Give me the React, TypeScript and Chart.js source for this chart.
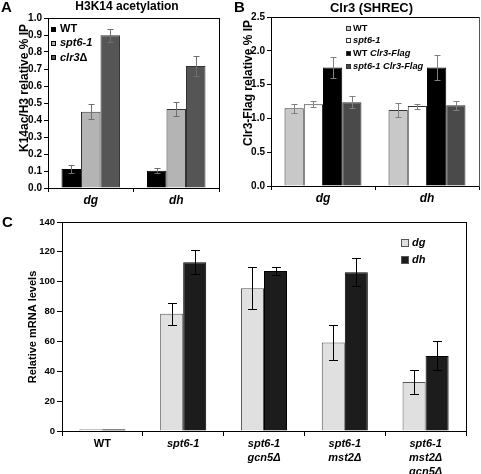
import React, { useEffect, useRef } from "react";
import { Chart, registerables } from "chart.js";

Chart.register(...registerables);

const FONT = "'Liberation Sans', Arial, Helvetica, sans-serif";

// ---------- Panel A: H3K14 acetylation ----------
const aCategories = ["dg", "dh"];
const aLabels = ["WT", "spt6-1", "clr3Δ"];
const aWT = [0.112, 0.102];
const aWTErr = [0.026, 0.016];
const aSpt6 = [0.449, 0.465];
const aSpt6Err = [0.044, 0.04];
const aClr3 = [0.898, 0.717];
const aClr3Err = [0.037, 0.06];
const aTitle = "H3K14 acetylation";
const aYTitle = "K14ac/H3 relative % IP";

// ---------- Panel B: Clr3 (SHREC) ----------
const bCategories = ["dg", "dh"];
const bLabels = ["WT", "spt6-1", "WT Clr3-Flag", "spt6-1 Clr3-Flag"];
const bWT = [1.149, 1.124];
const bWTErr = [0.07, 0.107];
const bSpt6 = [1.208, 1.183];
const bSpt6Err = [0.045, 0.037];
const bWTFlag = [1.752, 1.752];
const bWTFlagErr = [0.16, 0.186];
const bSpt6Flag = [1.238, 1.193];
const bSpt6FlagErr = [0.09, 0.062];
const bTitle = "Clr3 (SHREC)";
const bYTitle = "Clr3-Flag relative % IP";

// ---------- Panel C: Relative mRNA levels ----------
const cCategories = [
  ["WT"],
  ["spt6-1"],
  ["spt6-1", "gcn5Δ"],
  ["spt6-1", "mst2Δ"],
  ["spt6-1", "mst2Δ", "gcn5Δ"],
];
const cLabels = ["dg", "dh"];
const cDg = [1.2, 78.5, 95.7, 59.3, 32.9];
const cDgErr = [0, 7.3, 14.3, 11.7, 8];
const cDh = [1.2, 113, 107.2, 106.3, 50.3];
const cDhErr = [0, 8, 2.5, 9.4, 9.7];
const cYTitle = "Relative mRNA levels";

type Seg = { text: string; italic: boolean };
function segmentsFor(label: string): Seg[] {
  const segs: Seg[] = [];
  label.split(" ").forEach((w, wi) => {
    const prefix = wi > 0 ? " " : "";
    if (w === "WT") {
      segs.push({ text: prefix + w, italic: false });
      return;
    }
    w.split(/(Δ)/)
      .filter((p) => p)
      .forEach((p, pi) => segs.push({ text: (pi === 0 ? prefix : "") + p, italic: p !== "Δ" }));
  });
  return segs;
}

function drawSegs(ctx: CanvasRenderingContext2D, segs: Seg[], x: number, y: number, size: number) {
  let cx = x;
  ctx.textAlign = "left";
  ctx.textBaseline = "middle";
  ctx.fillStyle = "#000";
  segs.forEach((s) => {
    ctx.font = `${s.italic ? "italic " : ""}bold ${size}px ${FONT}`;
    ctx.fillText(s.text, cx, y);
    cx += ctx.measureText(s.text).width;
  });
}

interface TextItem {
  text: string;
  x: number;
  y: number;
  size: number;
  rotate?: boolean;
  align?: CanvasTextAlign;
}

interface PanelSpec {
  left: number;
  top: number;
  width: number;
  height: number;
  area: { left: number; top: number; right: number; bottom: number };
  categories: any[];
  labels: string[];
  values: number[][];
  errors: number[][];
  colors: string[];
  borders: string[];
  catPct: number;
  yMax: number;
  yStep: number;
  yDecimals: number;
  yTickSize: number;
  xTickSize: number;
  xLineHeight: number;
  tickLen: number;
  errColor: string;
  errCap: number;
  frameTop: string;
  frameRight: string;
  legend: { x: number; y: number; spacing: number; box: number; gap: number; size: number; boxBorder: string };
  texts: TextItem[];
}

const panels: PanelSpec[] = [
  {
    left: 0,
    top: 0,
    width: 228,
    height: 210,
    area: { left: 48, top: 18, right: 219, bottom: 188 },
    categories: aCategories,
    labels: aLabels,
    values: [aWT, aSpt6, aClr3],
    errors: [aWTErr, aSpt6Err, aClr3Err],
    colors: ["#000000", "#b4b4b4", "#555555"],
    borders: ["#000000", "#333333", "#333333"],
    catPct: 0.684,
    yMax: 1,
    yStep: 0.1,
    yDecimals: 1,
    yTickSize: 10,
    xTickSize: 12,
    xLineHeight: 1.2,
    tickLen: 4,
    errColor: "#6e6e6e",
    errCap: 6,
    frameTop: "#000000",
    frameRight: "#000000",
    legend: { x: 51, y: 29, spacing: 14.3, box: 5, gap: 4, size: 11, boxBorder: "#000" },
    texts: [
      { text: "A", x: 1, y: 8, size: 15, align: "left" },
      { text: aTitle, x: 127, y: 7, size: 12, align: "center" },
      { text: aYTitle, x: 25, y: 88, size: 12, rotate: true },
    ],
  },
  {
    left: 228,
    top: 0,
    width: 253,
    height: 210,
    area: { left: 43, top: 17, right: 251, bottom: 186 },
    categories: bCategories,
    labels: bLabels,
    values: [bWT, bSpt6, bWTFlag, bSpt6Flag],
    errors: [bWTErr, bSpt6Err, bWTFlagErr, bSpt6FlagErr],
    colors: ["#c8c8c8", "#ffffff", "#000000", "#4a4a4a"],
    borders: ["#333333", "#333333", "#000000", "#333333"],
    catPct: 0.74,
    yMax: 2.5,
    yStep: 0.5,
    yDecimals: 1,
    yTickSize: 10,
    xTickSize: 12,
    xLineHeight: 1.2,
    tickLen: 4,
    errColor: "#808080",
    errCap: 6,
    frameTop: "#000000",
    frameRight: "#555555",
    legend: { x: 118, y: 28, spacing: 12.8, box: 5, gap: 2, size: 9.3, boxBorder: "#333" },
    texts: [
      { text: "B", x: 6, y: 8, size: 15, align: "left" },
      { text: bTitle, x: 143.5, y: 8, size: 13, align: "center" },
      { text: bYTitle, x: 21, y: 83, size: 12, rotate: true },
    ],
  },
  {
    left: 0,
    top: 210,
    width: 481,
    height: 264,
    area: { left: 62, top: 12, right: 466, bottom: 221 },
    categories: cCategories,
    labels: cLabels,
    values: [cDg, cDh],
    errors: [cDgErr, cDhErr],
    colors: ["#e0e0e0", "#1c1c1c"],
    borders: ["#555555", "#000000"],
    catPct: 0.57,
    yMax: 140,
    yStep: 20,
    yDecimals: 0,
    yTickSize: 9.5,
    xTickSize: 11,
    xLineHeight: 1.27,
    tickLen: 5,
    errColor: "#000000",
    errCap: 9,
    frameTop: "#000000",
    frameRight: "#000000",
    legend: { x: 401, y: 33, spacing: 17, box: 8, gap: 3, size: 11, boxBorder: "#555" },
    texts: [
      { text: "C", x: 2, y: 13, size: 15, align: "left" },
      { text: cYTitle, x: 33, y: 117, size: 11, rotate: true },
    ],
  },
];

function buildConfig(spec: PanelSpec): any {
  const errorPlugin = {
    id: "errorBars",
    afterDatasetsDraw(chart: any) {
      const ctx = chart.ctx as CanvasRenderingContext2D;
      const ys = chart.scales.y;
      const xs = chart.scales.x;
      ctx.save();
      ctx.setLineDash([]);
      ctx.lineWidth = 1;

      // plot box: top and right edges
      const l = Math.round(xs.left);
      const r = Math.round(xs.right);
      const t = Math.round(ys.getPixelForValue(spec.yMax));
      const b = Math.round(ys.getPixelForValue(0));
      ctx.fillStyle = spec.frameTop;
      ctx.fillRect(l, t, r - l + 1, 1);
      ctx.fillStyle = spec.frameRight;
      ctx.fillRect(r, t, 1, b - t + 1);

      ctx.strokeStyle = spec.errColor;
      chart.data.datasets.forEach((ds: any, di: number) => {
        const meta = chart.getDatasetMeta(di);
        meta.data.forEach((bar: any, i: number) => {
          const v = ds.data[i];
          const e = spec.errors[di][i];
          if (!e) return;
          const x = Math.round(bar.x) + 0.5;
          const yt = Math.round(ys.getPixelForValue(v + e)) + 0.5;
          const yb = Math.round(ys.getPixelForValue(v - e)) + 0.5;
          const h = spec.errCap / 2;
          ctx.beginPath();
          ctx.moveTo(x, yt);
          ctx.lineTo(x, yb);
          ctx.moveTo(x - h, yt);
          ctx.lineTo(x + h, yt);
          ctx.moveTo(x - h, yb);
          ctx.lineTo(x + h, yb);
          ctx.stroke();
        });
      });
      ctx.restore();
    },
  };

  const decorPlugin = {
    id: "decor",
    afterDraw(chart: any) {
      const ctx = chart.ctx as CanvasRenderingContext2D;
      ctx.save();
      // legend
      const lg = spec.legend;
      chart.data.datasets.forEach((ds: any, i: number) => {
        const y = lg.y + i * lg.spacing;
        const by = Math.round(y - lg.box / 2);
        ctx.fillStyle = ds.backgroundColor;
        ctx.fillRect(lg.x, by, lg.box, lg.box);
        ctx.strokeStyle = lg.boxBorder;
        ctx.lineWidth = 1;
        ctx.strokeRect(lg.x + 0.5, by + 0.5, lg.box - 1, lg.box - 1);
        drawSegs(ctx, segmentsFor(ds.label), lg.x + lg.box + lg.gap, y, lg.size);
      });

      // texts
      spec.texts.forEach((tx) => {
        ctx.save();
        ctx.fillStyle = "#000";
        ctx.font = `bold ${tx.size}px ${FONT}`;
        ctx.textBaseline = "middle";
        if (tx.rotate) {
          ctx.translate(tx.x, tx.y);
          ctx.rotate(-Math.PI / 2);
          ctx.textAlign = "center";
          ctx.fillText(tx.text, 0, 0);
        } else {
          ctx.textAlign = tx.align || "left";
          ctx.fillText(tx.text, tx.x, tx.y);
        }
        ctx.restore();
      });
      ctx.restore();
    },
  };

  const isWT = (label: any) => (Array.isArray(label) ? label[0] === "WT" : label === "WT");

  return {
    type: "bar",
    data: {
      labels: spec.categories,
      datasets: spec.labels.map((l, i) => ({
        label: l,
        data: spec.values[i],
        backgroundColor: spec.colors[i],
        borderColor: spec.borders[i],
        borderWidth: 1,
        barPercentage: 1,
        categoryPercentage: spec.catPct,
        xAxisID: "x",
        yAxisID: "y",
      })),
    },
    options: {
      responsive: false,
      animation: false,
      devicePixelRatio: 1,
      layout: {
        padding: { left: 0, top: spec.area.top, right: spec.width - spec.area.right, bottom: 0 },
      },
      plugins: {
        legend: { display: false },
        tooltip: { enabled: false },
        title: { display: false },
      },
      scales: {
        x: {
          type: "category",
          position: "bottom",
          offset: true,
          grid: {
            offset: true,
            drawOnChartArea: false,
            drawTicks: true,
            tickLength: spec.tickLen,
            color: "#000",
          },
          border: { color: "#000", width: 1 },
          ticks: {
            color: "#000",
            padding: 1,
            maxRotation: 0,
            autoSkip: false,
            font: (ctx: any) => ({
              family: FONT,
              size: spec.xTickSize,
              weight: "bold",
              lineHeight: spec.xLineHeight,
              style: ctx.tick && isWT(ctx.tick.label) ? "normal" : "italic",
            }),
          },
          afterFit: (s: any) => {
            s.height = spec.height - spec.area.bottom;
          },
        },
        y: {
          type: "linear",
          position: "left",
          min: 0,
          max: spec.yMax,
          grid: {
            drawOnChartArea: false,
            drawTicks: true,
            tickLength: spec.tickLen,
            color: "#000",
          },
          border: { color: "#000", width: 1 },
          ticks: {
            stepSize: spec.yStep,
            color: "#000",
            padding: 2,
            font: { family: FONT, size: spec.yTickSize, weight: "bold" },
            callback: (v: any) => Number(v).toFixed(spec.yDecimals),
          },
          afterFit: (s: any) => {
            s.width = spec.area.left;
          },
        },
        // frame edges of the plot box (top and right), drawn as bare axis lines
        xTop: {
          type: "category",
          position: "top",
          labels: spec.categories,
          offset: true,
          grid: { drawOnChartArea: false, drawTicks: false, color: "rgba(0,0,0,0)" },
          border: { display: true, color: spec.frameTop, width: 1 },
          ticks: { display: false },
          afterFit: (s: any) => {
            s.height = 0;
          },
        },
        yRight: {
          type: "linear",
          position: "right",
          min: 0,
          max: spec.yMax,
          grid: { drawOnChartArea: false, drawTicks: false, color: "rgba(0,0,0,0)" },
          border: { display: true, color: spec.frameRight, width: 1 },
          ticks: { display: false },
          afterFit: (s: any) => {
            s.width = 0;
          },
        },
      },
    },
    plugins: [errorPlugin, decorPlugin],
  };
}

function Panel({ spec }: { spec: PanelSpec }) {
  const ref = useRef<HTMLCanvasElement | null>(null);
  useEffect(() => {
    if (!ref.current) return;
    const chart = new Chart(ref.current, buildConfig(spec));
    return () => chart.destroy();
  }, [spec]);
  return (
    <canvas
      ref={ref}
      width={spec.width}
      height={spec.height}
      style={{
        position: "absolute",
        left: spec.left,
        top: spec.top,
        width: spec.width,
        height: spec.height,
      }}
    />
  );
}

export default function App() {
  return (
    <div
      style={{
        position: "absolute",
        left: 0,
        top: 0,
        width: 481,
        height: 474,
        background: "#fff",
        overflow: "hidden",
      }}
    >
      {panels.map((p, i) => (
        <Panel key={i} spec={p} />
      ))}
    </div>
  );
}
